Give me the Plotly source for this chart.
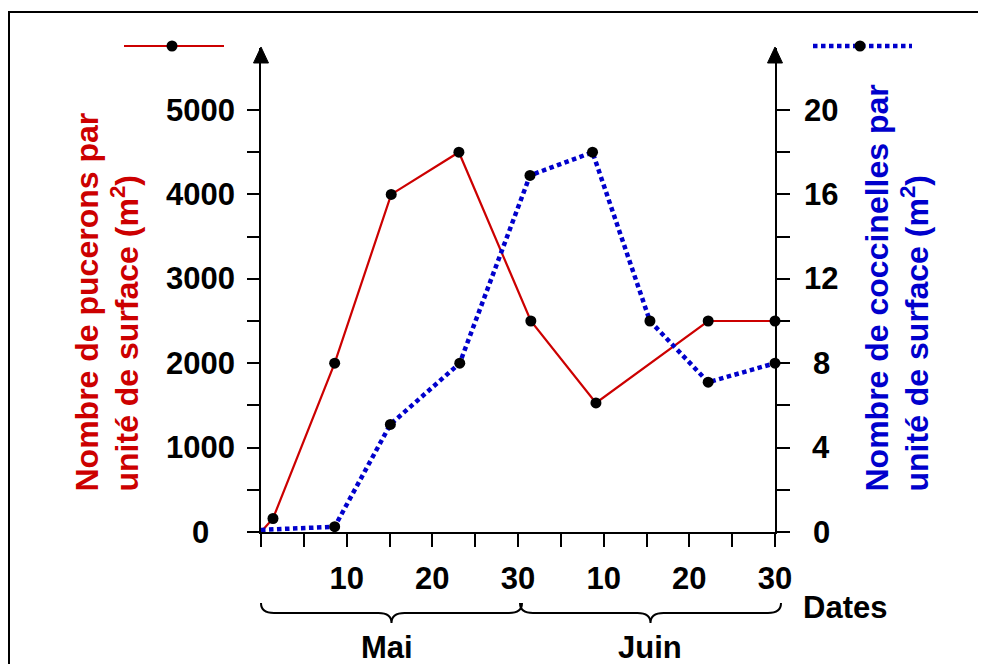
import plotly.graph_objects as go

# ---------------- data ----------------
# x = days counted from 30 April (May 10 -> 10, May 30 -> 30, June 10 -> 40 ...)
aphid_days = [0, 1.4, 8.6, 15.2, 23.1, 31.5, 39.1, 52.2, 60]
aphid_counts = [0, 160, 2000, 4000, 4500, 2500, 1530, 2500, 2500]

ladybird_days = [0, 8.6, 15.1, 23.2, 31.4, 38.7, 45.4, 52.2, 60]
ladybird_counts = [0.1, 0.25, 5.1, 8.0, 16.9, 18.0, 10.0, 7.1, 8.0]

x_tick_vals = [10, 20, 30, 40, 50, 60]
x_tick_text = ["10", "20", "30", "10", "20", "30"]
x_minor_ticks = [0, 5, 15, 25, 35, 45, 55]

left_minor_ticks = [0, 500, 1000, 1500, 2000, 2500, 3000, 3500, 4000, 4500, 5000]
left_labels = [0, 1000, 2000, 3000, 4000, 5000]
right_minor_ticks = [0, 2, 4, 6, 8, 10, 12, 14, 16, 18, 20]
right_labels = [0, 4, 8, 12, 16, 20]

left_title = ["Nombre de pucerons par", "unité de surface (m<sup>2</sup>)"]
right_title = ["Nombre de coccinelles par", "unité de surface (m<sup>2</sup>)"]
month_labels = ["Mai", "Juin"]
x_title = "Dates"

# ---------------- geometry (page pixels; the page body has an 8px margin) ----------------
OFF = 8
W, H = 986 - OFF, 664 - OFF
L, R, T, B = 261, 775, 48, 532
LEFT_MAX = 5735
RIGHT_MAX = LEFT_MAX / 250.0

RED = "#CC0000"
BLUE = "#0000CC"
FONT = "Liberation Sans, Arial, sans-serif"


def px2x(p):
    return (p - L) / (R - L)


def py2y(p):
    return (B - p) / (B - T)


fig = go.Figure()

fig.add_trace(go.Scatter(x=aphid_days, y=aphid_counts, mode="lines",
                         line=dict(color=RED, width=2.2), yaxis="y",
                         showlegend=False, hoverinfo="skip", cliponaxis=False))
fig.add_trace(go.Scatter(x=ladybird_days, y=ladybird_counts, mode="lines",
                         line=dict(color=BLUE, width=4.5, dash="4.5px,3.5px"),
                         yaxis="y2", showlegend=False, hoverinfo="skip",
                         cliponaxis=False))
fig.add_trace(go.Scatter(x=aphid_days[1:], y=aphid_counts[1:], mode="markers",
                         marker=dict(color="black", size=11), yaxis="y",
                         showlegend=False, cliponaxis=False))
fig.add_trace(go.Scatter(x=ladybird_days[1:], y=ladybird_counts[1:], mode="markers",
                         marker=dict(color="black", size=11), yaxis="y2",
                         showlegend=False, cliponaxis=False))

tickfont = dict(family=FONT, size=31, color="black", weight="bold")

annotations = []
for v in left_labels:
    annotations.append(dict(xref="paper", yref="y", x=px2x(200), y=v, text=str(v),
                            showarrow=False, xanchor="center", yanchor="middle",
                            font=tickfont))
for v in right_labels:
    annotations.append(dict(xref="paper", yref="y2", x=px2x(821), y=v, text=str(v),
                            showarrow=False, xanchor="center", yanchor="middle",
                            font=tickfont))

title_font_l = dict(family=FONT, size=32, color=RED, weight="bold")
title_font_r = dict(family=FONT, size=32, color=BLUE, weight="bold")
for txt, cx in zip(left_title, [86, 124]):
    annotations.append(dict(xref="paper", yref="paper", x=px2x(cx), y=py2y(494),
                            text=txt, textangle=-90, showarrow=False,
                            xanchor="center", yanchor="bottom", font=title_font_l))
for txt, cx in zip(right_title, [876, 914]):
    annotations.append(dict(xref="paper", yref="paper", x=px2x(cx), y=py2y(494),
                            text=txt, textangle=-90, showarrow=False,
                            xanchor="center", yanchor="bottom", font=title_font_r))

lab_font = dict(family=FONT, size=31, color="black", weight="bold")
for txt, cx in zip(month_labels, [387, 650]):
    annotations.append(dict(xref="paper", yref="paper", x=px2x(cx), y=py2y(647),
                            text=txt, showarrow=False, xanchor="center",
                            yanchor="middle", font=lab_font))
annotations.append(dict(xref="paper", yref="paper", x=px2x(845), y=py2y(607),
                        text=x_title, showarrow=False, xanchor="center",
                        yanchor="middle", font=lab_font))

shapes = []
# outer frame
shapes.append(dict(type="rect", xref="paper", yref="paper",
                   x0=px2x(9), x1=px2x(1000), y0=py2y(700), y1=py2y(12),
                   line=dict(color="black", width=2), layer="below"))


def P(px, py):
    return f"{px2x(px):.5f},{py2y(py):.5f}"


# arrow heads on the y axes
for ax_x in (L, R):
    shapes.append(dict(type="path", xref="paper", yref="paper",
                       path=f"M{P(ax_x, 47)} L{P(ax_x - 7.5, 63)} L{P(ax_x + 7.5, 63)} Z",
                       fillcolor="black", line=dict(color="black", width=1)))


def brace(xa, xb, y0=603, y1=613, y2=623, r=13):
    xm = (xa + xb) / 2.0
    return (f"M{P(xa, y0)} Q{P(xa, y1)} {P(xa + r, y1)} L{P(xm - r, y1)} "
            f"Q{P(xm, y1)} {P(xm, y2)} Q{P(xm, y1)} {P(xm + r, y1)} "
            f"L{P(xb - r, y1)} Q{P(xb, y1)} {P(xb, y0)}")


for xa, xb in ((261, 522), (520, 781)):
    shapes.append(dict(type="path", xref="paper", yref="paper", path=brace(xa, xb),
                       line=dict(color="black", width=2)))

# legend keys
shapes.append(dict(type="line", xref="paper", yref="paper",
                   x0=px2x(124), x1=px2x(224), y0=py2y(46), y1=py2y(46),
                   line=dict(color=RED, width=2.2)))
shapes.append(dict(type="line", xref="paper", yref="paper",
                   x0=px2x(813), x1=px2x(912), y0=py2y(46), y1=py2y(46),
                   line=dict(color=BLUE, width=4.5, dash="4.5px,3.5px")))
for cx in (172, 860):
    shapes.append(dict(type="circle", xref="paper", yref="paper",
                       x0=px2x(cx - 5.5), x1=px2x(cx + 5.5),
                       y0=py2y(46 + 5.5), y1=py2y(46 - 5.5),
                       fillcolor="black", line=dict(color="black", width=0)))

fig.update_layout(
    width=W, height=H,
    margin=dict(l=L - OFF, r=W - (R - OFF), t=T - OFF, b=H - (B - OFF),
                autoexpand=False),
    paper_bgcolor="white", plot_bgcolor="white",
    showlegend=False,
    xaxis=dict(range=[0, 60], tickmode="array", tickvals=x_tick_vals,
               ticktext=x_tick_text, ticks="outside", ticklen=13, tickwidth=2,
               tickcolor="black", showline=True, linecolor="black", linewidth=2,
               showgrid=False, zeroline=False, tickfont=tickfont,
               ticklabelstandoff=5, fixedrange=True,
               minor=dict(tickmode="array", tickvals=x_minor_ticks, ticks="outside",
                          ticklen=13, tickwidth=2, tickcolor="black",
                          showgrid=False)),
    yaxis=dict(range=[0, LEFT_MAX], tickmode="array", tickvals=left_minor_ticks,
               ticks="outside", ticklen=12, tickwidth=2, tickcolor="black",
               showticklabels=False, showline=True, linecolor="black",
               linewidth=2, showgrid=False, zeroline=False, fixedrange=True),
    yaxis2=dict(range=[0, RIGHT_MAX], overlaying="y", side="right",
                tickmode="array", tickvals=right_minor_ticks, ticks="outside",
                ticklen=13, tickwidth=2, tickcolor="black", showticklabels=False,
                showline=True, linecolor="black", linewidth=2, showgrid=False,
                zeroline=False, fixedrange=True),
    annotations=annotations,
    shapes=shapes,
)

fig.write_html("out.html")
